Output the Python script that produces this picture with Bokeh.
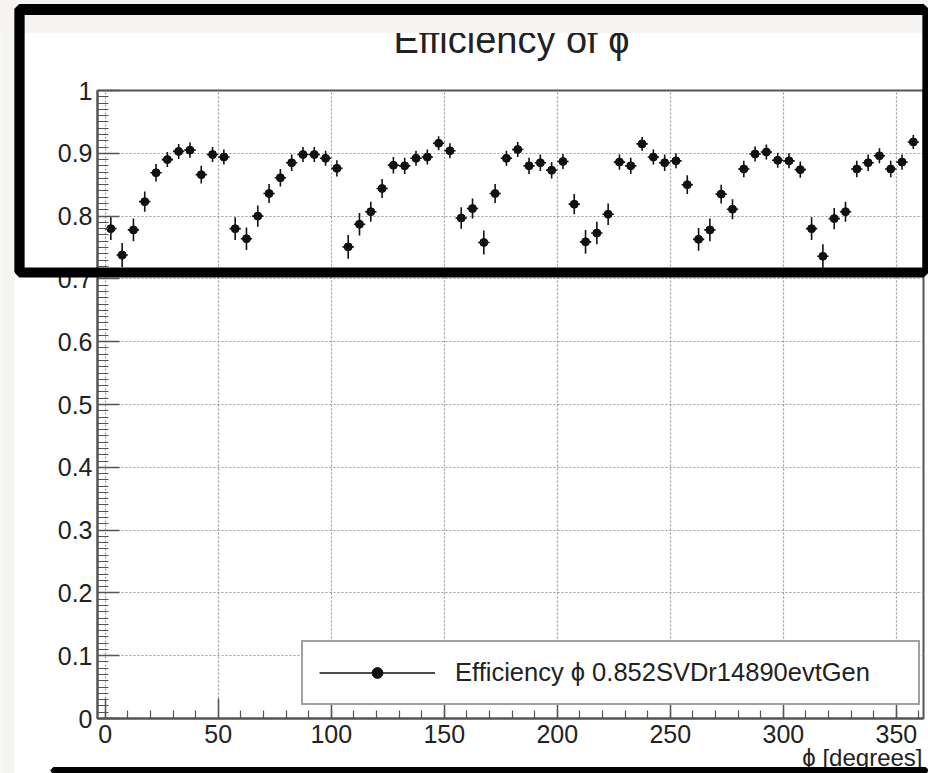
from bokeh.plotting import figure
from bokeh.models import (ColumnDataSource, Label, Legend, LegendItem,
                          Range1d, SingleIntervalTicker)
from bokeh.embed import file_html
from bokeh.resources import INLINE

# ---------------- data ----------------
phi_centers = [2.5, 7.5, 12.5, 17.5, 22.5, 27.5, 32.5, 37.5, 42.5, 47.5, 52.5, 57.5,
               62.5, 67.5, 72.5, 77.5, 82.5, 87.5, 92.5, 97.5, 102.5, 107.5, 112.5, 117.5,
               122.5, 127.5, 132.5, 137.5, 142.5, 147.5, 152.5, 157.5, 162.5, 167.5, 172.5, 177.5,
               182.5, 187.5, 192.5, 197.5, 202.5, 207.5, 212.5, 217.5, 222.5, 227.5, 232.5, 237.5,
               242.5, 247.5, 252.5, 257.5, 262.5, 267.5, 272.5, 277.5, 282.5, 287.5, 292.5, 297.5,
               302.5, 307.5, 312.5, 317.5, 322.5, 327.5, 332.5, 337.5, 342.5, 347.5, 352.5, 357.5]
bin_half_width = 2.5

efficiency = [0.780, 0.738, 0.778, 0.823, 0.869, 0.890, 0.903, 0.905, 0.866, 0.898, 0.894, 0.780,
              0.764, 0.800, 0.836, 0.861, 0.885, 0.898, 0.898, 0.892, 0.876, 0.751, 0.787, 0.807,
              0.844, 0.881, 0.880, 0.892, 0.894, 0.916, 0.904, 0.797, 0.812, 0.758, 0.836, 0.892,
              0.906, 0.880, 0.885, 0.873, 0.887, 0.819, 0.759, 0.773, 0.803, 0.886, 0.880, 0.915,
              0.894, 0.885, 0.888, 0.850, 0.763, 0.778, 0.835, 0.811, 0.875, 0.899, 0.902, 0.889,
              0.888, 0.874, 0.780, 0.736, 0.796, 0.807, 0.875, 0.885, 0.896, 0.875, 0.886, 0.918]

eff_error = [0.018, 0.019, 0.018, 0.016, 0.014, 0.012, 0.012, 0.012, 0.014, 0.012, 0.012, 0.018,
             0.018, 0.017, 0.015, 0.014, 0.013, 0.012, 0.012, 0.012, 0.013, 0.019, 0.018, 0.016,
             0.015, 0.013, 0.013, 0.012, 0.012, 0.011, 0.012, 0.017, 0.016, 0.019, 0.015, 0.012,
             0.012, 0.013, 0.013, 0.013, 0.012, 0.016, 0.019, 0.018, 0.017, 0.012, 0.013, 0.011,
             0.012, 0.013, 0.012, 0.015, 0.018, 0.018, 0.015, 0.016, 0.013, 0.012, 0.012, 0.012,
             0.012, 0.013, 0.018, 0.019, 0.017, 0.016, 0.013, 0.013, 0.012, 0.013, 0.012, 0.011]

title_text = "Efficiency of \u03d5"
legend_label = "Efficiency \u03d5 0.852SVDr14890evtGen"
x_title = "\u03d5 [degrees]"

# ---------------- figure ----------------
W, H = 928, 773
FONT = "Liberation Sans"
TXT = "#222222"

p = figure(width=W, height=H, output_backend="svg", toolbar_location=None,
           x_range=Range1d(-3.4, 362), y_range=Range1d(0, 1),
           min_border_left=97, min_border_right=5, min_border_top=90, min_border_bottom=55)
p.title = None
p.background_fill_color = "white"
p.border_fill_color = "white"
p.outline_line_color = "#555555"
p.outline_line_width = 2

src = ColumnDataSource(dict(
    x=phi_centers,
    y=efficiency,
    lo=[e - d for e, d in zip(efficiency, eff_error)],
    hi=[e + d for e, d in zip(efficiency, eff_error)],
    x0=[c - bin_half_width for c in phi_centers],
    x1=[c + bin_half_width for c in phi_centers],
))

r_v = p.segment(x0="x", y0="lo", x1="x", y1="hi", source=src, line_color="#111111", line_width=1.6)
r_h = p.segment(x0="x0", y0="y", x1="x1", y1="y", source=src, line_color="#111111", line_width=1.6)
r_m = p.scatter(x="x", y="y", source=src, marker="circle", size=8, fill_color="#111111",
                line_color="#111111")

# axes
p.xaxis.ticker = SingleIntervalTicker(interval=50, num_minor_ticks=5)
p.yaxis.ticker = SingleIntervalTicker(interval=0.1, num_minor_ticks=10)
p.yaxis.major_label_overrides = {0: "0", 1: "1"}

for ax in (p.xaxis[0], p.yaxis[0]):
    ax.axis_line_color = "#555555"
    ax.axis_line_width = 2
    ax.major_tick_line_color = "#555555"
    ax.minor_tick_line_color = "#555555"
    ax.major_tick_line_width = 1.5
    ax.minor_tick_line_width = 1.2
    ax.major_tick_out = 0
    ax.minor_tick_out = 0
    ax.major_label_text_font = FONT
    ax.major_label_text_font_size = "25px"
    ax.major_label_text_color = TXT

p.yaxis.major_tick_in = 22
p.yaxis.minor_tick_in = 11
p.xaxis.major_tick_in = 20
p.xaxis.minor_tick_in = 8
p.yaxis.major_label_standoff = 5
p.xaxis.major_label_standoff = 6

for g in (p.xgrid[0], p.ygrid[0]):
    g.grid_line_color = "#9a9a9a"
    g.grid_line_dash = "2 2"
    g.grid_line_width = 1.2

# legend
legend = Legend(items=[LegendItem(label=legend_label, renderers=[r_h, r_m])],
                location=(204, 13), border_line_color="#444444", border_line_width=2,
                background_fill_color="white", background_fill_alpha=1.0,
                label_text_font=FONT, label_text_font_size="25.5px", label_text_color=TXT,
                glyph_width=116, glyph_height=27, padding=16, spacing=0,
                label_standoff=20, label_width=447, margin=0)
p.add_layout(legend)

# ---------------- texts outside the frame & screenshot framing ----------------
GRAY = "#f5f4f2"


def text_label(x, y, text, size, align):
    return Label(x=x, y=y, x_units="canvas", y_units="canvas", text=text,
                 text_align=align, text_baseline="alphabetic", text_font=FONT,
                 text_font_size=size, text_color=TXT)


def strip(cx, cy, half_w, half_h, color, thickness):
    """A thick straight stroke in canvas pixels (the screenshot's marker pen / margins)."""
    return Label(x=cx, y=cy, x_units="canvas", y_units="canvas", text=" ",
                 text_font_size="1px", text_align="center", text_baseline="middle",
                 padding=(half_w, half_h), background_fill_alpha=0.0,
                 border_line_color=color, border_line_width=thickness)


p.add_layout(text_label(511, 39, title_text, "38px", "center"), "above")
p.add_layout(text_label(922, 757, x_title, "24px", "right"), "above")

p.add_layout(strip(464, 16, 464, 0, GRAY, 32), "above")      # light band at the top
p.add_layout(strip(7, 386, 0, 386, GRAY, 14), "left")        # light strip at the left
p.add_layout(strip(471, 9, 452, 0, "black", 10), "above")    # box: top edge
p.add_layout(strip(471, 272, 452, 0, "black", 9), "above")   # box: bottom edge
p.add_layout(strip(19, 140, 0, 131, "black", 10), "left")    # box: left edge
p.add_layout(strip(925, 140, 0, 131, "black", 6), "right")   # box: right edge
p.add_layout(strip(489, 770, 436, 0, "black", 6), "below")   # stroke at the bottom

open("out.html", "w").write(file_html(p, INLINE))
